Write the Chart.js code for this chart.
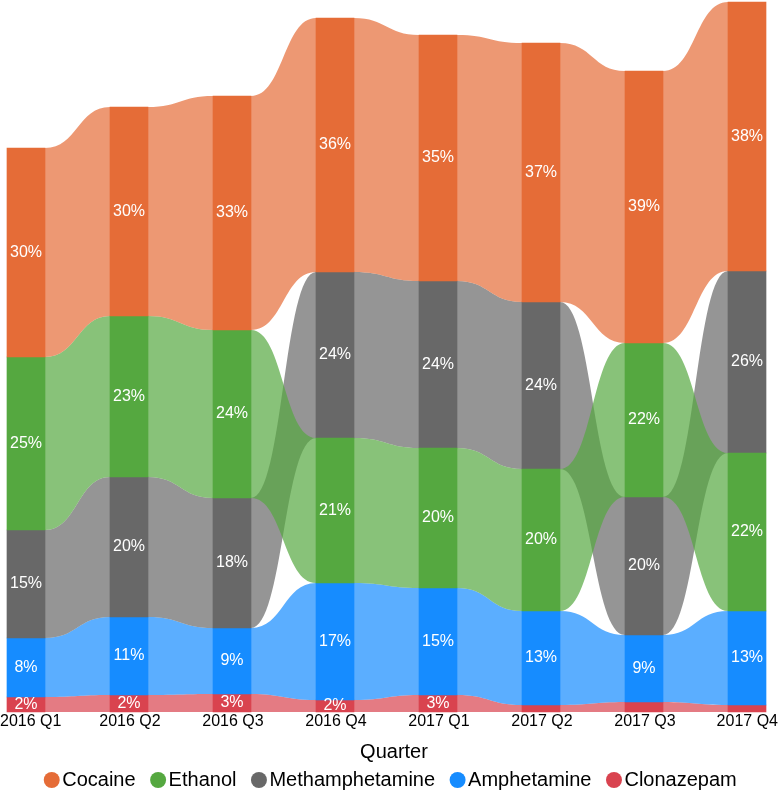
<!DOCTYPE html>
<html>
<head>
<meta charset="utf-8">
<title>Drug cases by quarter</title>
<script src="https://cdn.jsdelivr.net/npm/chart.js@4"></script>
<style>
  html, body { margin: 0; padding: 0; background: #fff; }
  #wrap { width: 778px; height: 792px; }
</style>
</head>
<body>
<div id="wrap"><canvas id="chart"></canvas></div>
<script>
const quarters = ['2016 Q1', '2016 Q2', '2016 Q3', '2016 Q4', '2017 Q1', '2017 Q2', '2017 Q3', '2017 Q4'];
const drugs = ['Cocaine', 'Ethanol', 'Methamphetamine', 'Amphetamine', 'Clonazepam'];

// cases per quarter
const cocaine = [209, 209, 234, 254, 246, 259, 272, 269];
const ethanol = [173, 161, 168, 145, 140, 142, 154, 158];
const methamphetamine = [108, 140, 130, 166, 167, 167, 138, 182];
const amphetamine = [59, 78, 66, 117, 107, 94, 67, 94];
const clonazepam = [15, 17, 18, 12, 17, 7, 10, 7];

// share of all cases in the quarter (%)
const cocainePct = [30, 30, 33, 36, 35, 37, 39, 38];
const ethanolPct = [25, 23, 24, 21, 20, 20, 22, 22];
const methamphetaminePct = [15, 20, 18, 24, 24, 24, 20, 26];
const amphetaminePct = [8, 11, 9, 17, 15, 13, 9, 13];
const clonazepamPct = [2, 2, 3, 2, 3, 1, 1, 1];

const colors = ['#E56C37', '#55A840', '#686868', '#168CFF', '#D9434F'];

const counts = [cocaine, ethanol, methamphetamine, amphetamine, clonazepam];
const shares = [cocainePct, ethanolPct, methamphetaminePct, amphetaminePct, clonazepamPct];

// every quarter is stacked from the smallest (bottom) to the largest (top)
const ranges = counts.map(() => []);
quarters.forEach((q, i) => {
    const order = counts.map((c, d) => d).sort((a, b) => counts[a][i] - counts[b][i]);
    let base = 0;
    order.forEach(d => {
        ranges[d][i] = [base, base + counts[d][i]];
        base += counts[d][i];
    });
});
const yMax = Math.max(...quarters.map((q, i) => counts.reduce((s, c) => s + c[i], 0)));

function fade(hex, a) {
    const n = parseInt(hex.slice(1), 16);
    return `rgba(${n >> 16},${(n >> 8) & 255},${n & 255},${a})`;
}

const ribbons = {
    id: 'ribbons',
    beforeDatasetsDraw(chart) {
        const ctx = chart.ctx;
        ctx.save();
        for (let d = chart.data.datasets.length - 1; d >= 0; d--) {
            const bars = chart.getDatasetMeta(d).data;
            ctx.fillStyle = fade(colors[d], 0.7);
            for (let i = 0; i < bars.length - 1; i++) {
                const a = bars[i], b = bars[i + 1];
                const ax = a.x + a.width / 2, bx = b.x - b.width / 2, mx = (ax + bx) / 2;
                const aTop = Math.min(a.y, a.base), aBot = Math.max(a.y, a.base);
                const bTop = Math.min(b.y, b.base), bBot = Math.max(b.y, b.base);
                ctx.beginPath();
                ctx.moveTo(a.x, aTop);
                ctx.lineTo(ax, aTop);
                ctx.bezierCurveTo(mx, aTop, mx, bTop, bx, bTop);
                ctx.lineTo(b.x, bTop);
                ctx.lineTo(b.x, bBot);
                ctx.lineTo(bx, bBot);
                ctx.bezierCurveTo(mx, bBot, mx, aBot, ax, aBot);
                ctx.lineTo(a.x, aBot);
                ctx.closePath();
                ctx.fill();
            }
        }
        ctx.restore();
    },
    afterDatasetsDraw(chart) {
        const ctx = chart.ctx;
        const xScale = chart.scales.x;
        ctx.save();
        ctx.textAlign = 'center';
        ctx.textBaseline = 'middle';
        ctx.font = '16px "Liberation Sans", Arial, sans-serif';
        ctx.fillStyle = '#fff';
        chart.data.datasets.forEach((ds, d) => {
            chart.getDatasetMeta(d).data.forEach((bar, i) => {
                if (Math.abs(bar.base - bar.y) < 11) return;
                ctx.fillText(shares[d][i] + '%', bar.x, (bar.y + bar.base) / 2);
            });
        });
        // quarter labels under the bars, kept inside the canvas
        ctx.fillStyle = '#000';
        quarters.forEach((q, i) => {
            const w = ctx.measureText(q).width;
            let x = xScale.getPixelForValue(i) + 1;
            x = Math.max(w / 2, Math.min(chart.width - w / 2, x));
            ctx.fillText(q, x, chart.chartArea.bottom + 9.5);
        });
        ctx.restore();
    }
};

Chart.defaults.font.family = '"Liberation Sans", Arial, Helvetica, sans-serif';

new Chart(document.getElementById('chart'), {
    type: 'bar',
    data: {
        datasets: drugs.map((name, d) => ({
            label: name,
            data: ranges[d].map((r, i) => ({ x: i, y: r })),
            backgroundColor: colors[d],
            borderWidth: 0,
            barThickness: 38,
            grouped: false,
            clip: false
        }))
    },
    options: {
        responsive: true,
        maintainAspectRatio: false,
        animation: false,
        layout: { padding: { top: 2, left: 10, right: 0, bottom: -8 } },
        scales: {
            x: {
                type: 'linear',
                offset: false,
                min: -16 / 103,
                max: 7 + 31 / 103,
                ticks: { display: false },
                grid: { display: false, drawTicks: false, offset: false },
                border: { display: false },
                title: {
                    display: true,
                    text: 'Quarter',
                    color: '#000',
                    font: { size: 20, lineHeight: 1.2 },
                    padding: { top: 28, bottom: -16 }
                }
            },
            y: {
                display: false,
                min: 0,
                max: yMax
            }
        },
        plugins: {
            legend: {
                position: 'bottom',
                labels: {
                    usePointStyle: true,
                    pointStyle: 'circle',
                    boxWidth: 1,
                    boxHeight: 11.3,
                    padding: 22,
                    color: '#000',
                    font: { size: 20 }
                }
            },
            tooltip: { enabled: false }
        }
    },
    plugins: [ribbons]
});
</script>
</body>
</html>
